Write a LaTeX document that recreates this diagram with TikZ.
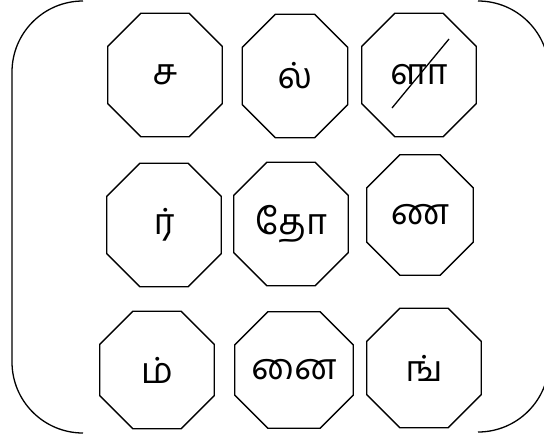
\documentclass[tikz,border=0pt]{standalone}
\usepackage{fontspec}
\newfontfamily\tamilfont[Script=Tamil]{Hind Madurai}
\usetikzlibrary{calc}

% octagon round a node: corners cut by 33pt
\newcommand\tileframe[1]{%
  \draw[frame] ($(#1.north west)+(33,0)$) -- ($(#1.north east)+(-33,0)$)
    -- ($(#1.north east)+(0,33)$) -- ($(#1.south east)+(0,-33)$)
    -- ($(#1.south east)+(-33,0)$) -- ($(#1.south west)+(33,0)$)
    -- ($(#1.south west)+(0,-33)$) -- ($(#1.north west)+(0,33)$) -- cycle;}

\begin{document}
\begin{tikzpicture}[x=1pt, y=-1pt,
  tile/.style={rectangle, minimum width=114pt, minimum height=123pt, inner sep=0pt,
    font=\tamilfont\fontsize{36}{40}\selectfont},
  frame/.style={line width=1.3pt, line join=miter},
  bracket/.style={line width=1.3pt, rounded corners=71pt}
]
  \useasboundingbox (0,0) rectangle (544,437);

  % Brackets
  \draw[bracket] (83,1) -- (12,1) -- (12,433) -- (83,433);
  \draw[bracket] (478,1) -- (549,1) -- (549,432) -- (478,432);

  % Top row
  \node[tile] (sa) at (165,75) {ச};
  \node[tile, minimum width=105pt] (l) at (295,76) {ல்};
  \node[tile] (la) at (419,75) {ளா};

  % Middle row
  \node[tile] (r) at (164,225) {ர்};
  \node[tile] (tho) at (291,224) {தோ};
  \node[tile, minimum width=106pt, minimum height=120pt] (nna) at (420,215) {ண};

  % Bottom row
  \node[tile, minimum height=117pt] (m) at (157,370) {ம்};
  \node[tile, minimum width=118pt, minimum height=116pt] (nai) at (294,370) {னை};
  \node[tile, minimum height=119pt] (ng) at (424,368) {ங்};

  \foreach \t in {sa,l,la,r,tho,nna,m,nai,ng}
    \tileframe{\t};

  % Strike through
  \draw[frame] ($(la.center)+(-27,33)$) -- ($(la.center)+(30,-36)$);
\end{tikzpicture}
\end{document}
